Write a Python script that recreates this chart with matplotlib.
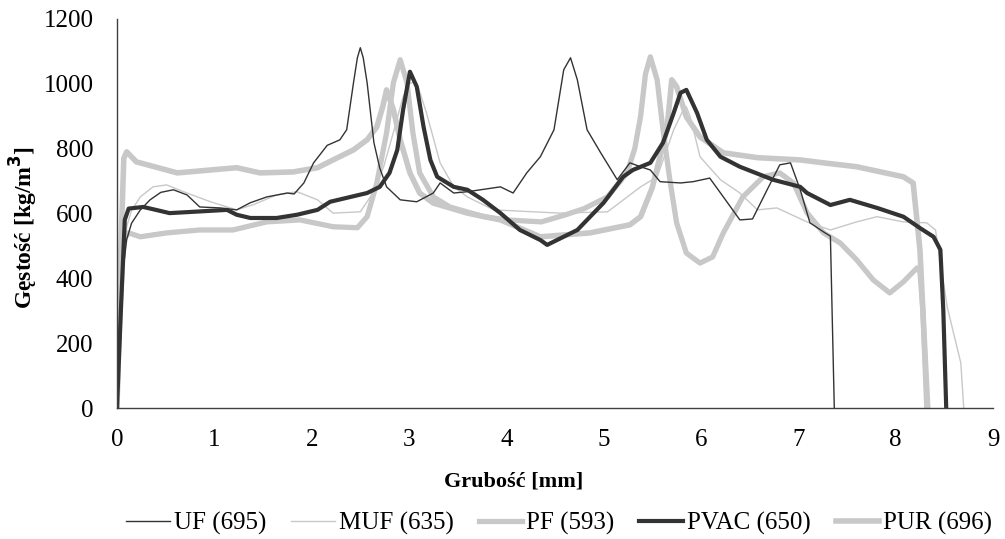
import matplotlib
matplotlib.use('Agg')
import matplotlib.pyplot as plt

plt.rcParams['font.family'] = ['Liberation Serif', 'DejaVu Serif']

# profile gęstości
uf_x = [0, 0.03, 0.06, 0.1, 0.15, 0.24, 0.34, 0.45, 0.58, 0.72, 0.85, 1.06, 1.23, 1.37, 1.54, 1.75, 1.82, 1.92,
        2.02, 2.16, 2.29, 2.36, 2.43, 2.47, 2.5, 2.53, 2.57, 2.64, 2.7, 2.77, 2.91, 3.08, 3.25, 3.32, 3.46, 3.6,
        3.94, 4.07, 4.21, 4.35, 4.49, 4.59, 4.66, 4.73, 4.83, 4.97, 5.14, 5.27, 5.38, 5.48, 5.58, 5.79, 5.92,
        6.09, 6.23, 6.4, 6.53, 6.68, 6.81, 6.92, 7.02, 7.12, 7.26, 7.33, 7.37]
uf_y = [0, 200, 420, 520, 570, 611, 642, 665, 673, 657, 620, 617, 611, 633, 651, 663, 660, 694,
        756, 810, 827, 858, 1003, 1080, 1111, 1080, 1003, 818, 740, 682, 642, 636, 663, 694, 663, 667,
        682, 663, 725, 775, 858, 1043, 1080, 1012, 858, 787, 704, 756, 744, 734, 698, 694, 698,
        709, 651, 580, 583, 673, 750, 756, 673, 571, 543, 530, 0]

muf_x = [0, 0.03, 0.06, 0.1, 0.15, 0.24, 0.37, 0.51, 0.72, 0.96, 1.23, 1.4, 1.64, 1.85, 2.06, 2.22, 2.5,
         2.63, 2.74, 2.84, 2.94, 3.0, 3.05, 3.1, 3.18, 3.32, 3.46, 3.6, 3.87, 4.28, 4.55, 5.04, 5.38, 5.55,
         5.72, 5.82, 5.85, 5.89, 5.99, 6.2, 6.4, 6.58, 6.78, 7.09, 7.33, 7.6, 7.81, 8.08, 8.32, 8.41, 8.53,
         8.67, 8.7]
muf_y = [0, 200, 420, 560, 610, 651, 682, 688, 663, 636, 611, 627, 657, 667, 642, 601, 605,
         663, 744, 850, 960, 1000, 1005, 985, 910, 756, 682, 651, 611, 605, 601, 605, 682, 713,
         858, 920, 929, 898, 775, 704, 663, 611, 617, 574, 549, 574, 590, 574, 571, 549, 312,
         139, 0]

pf_x = [0, 0.03, 0.07, 0.12, 0.24, 0.51, 0.85, 1.19, 1.54, 1.88, 2.22, 2.47, 2.57, 2.67, 2.77, 2.84, 2.91,
        2.98, 3.04, 3.11, 3.25, 3.42, 3.77, 4.0, 4.36, 4.6, 4.8, 5.04, 5.24, 5.32, 5.38, 5.43, 5.48, 5.55,
        5.61, 5.68, 5.75, 5.85, 5.99, 6.12, 6.23, 6.43, 6.64, 6.81, 6.95, 7.09, 7.26, 7.43, 7.6, 7.77,
        7.94, 8.08, 8.22, 8.25, 8.28, 8.32]
pf_y = [0, 300, 520, 540, 528, 540, 549, 549, 574, 580, 559, 556, 590, 694, 849, 1003, 1074,
        1003, 849, 725, 651, 620, 590, 580, 574, 595, 615, 651, 725, 800, 900, 1030, 1083, 1012,
        858, 704, 571, 478, 447, 466, 540, 651, 713, 725, 694, 602, 540, 509, 457, 395,
        355, 389, 432, 420, 302, 0]

pvac_x = [0, 0.04, 0.08, 0.12, 0.27, 0.4, 0.54, 0.78, 1.13, 1.23, 1.37, 1.64, 1.85, 2.06, 2.19, 2.57, 2.7,
          2.8, 2.88, 2.94, 3.01, 3.08, 3.15, 3.22, 3.29, 3.46, 3.6, 3.76, 3.94, 4.14, 4.35, 4.42, 4.73, 5.0,
          5.2, 5.3, 5.48, 5.61, 5.72, 5.79, 5.85, 5.96, 6.06, 6.2, 6.4, 6.74, 7.02, 7.09, 7.33, 7.53, 7.81,
          8.08, 8.25, 8.39, 8.46, 8.49, 8.52]
pvac_y = [0, 300, 580, 615, 620, 611, 601, 605, 611, 596, 586, 586, 596, 611, 636, 663, 682,
          725, 796, 920, 1037, 991, 867, 765, 713, 682, 673, 642, 601, 549, 518, 503, 549, 633,
          713, 734, 756, 818, 910, 972, 981, 910, 827, 775, 744, 704, 682, 663, 626, 642, 617,
          590, 555, 528, 488, 302, 0]

pur_x = [0, 0.03, 0.07, 0.1, 0.2, 0.62, 0.96, 1.23, 1.47, 1.81, 2.06, 2.22, 2.43, 2.57, 2.67, 2.73, 2.77,
         2.84, 2.91, 3.01, 3.11, 3.25, 3.6, 3.94, 4.35, 4.86, 5.27, 5.38, 5.5, 5.6, 5.65, 5.7, 5.75, 5.85,
         5.99, 6.23, 6.58, 7.02, 7.26, 7.6, 8.08, 8.18, 8.25, 8.28, 8.33]
pur_y = [0, 400, 770, 790, 759, 725, 734, 741, 725, 728, 741, 765, 796, 827, 867, 929, 981,
         920, 827, 725, 663, 632, 601, 580, 528, 540, 565, 590, 680, 800, 858, 1012, 991, 898,
         836, 787, 772, 765, 756, 744, 713, 694, 488, 302, 0]

dark = '#333333'
light = '#c8c8c8'

fig = plt.figure(figsize=(10.05, 5.39), dpi=100)
ax = fig.add_axes([0.1164, 0.243, 0.8716, 0.722])

l_pf, = ax.plot(pf_x, pf_y, color=light, lw=3.8, label='PF (593)', solid_joinstyle='round')
l_pur, = ax.plot(pur_x, pur_y, color=light, lw=4.0, label='PUR (696)', solid_joinstyle='round')
l_muf, = ax.plot(muf_x, muf_y, color=light, lw=1.0, label='MUF (635)')
l_pvac, = ax.plot(pvac_x, pvac_y, color=dark, lw=3.0, label='PVAC (650)', solid_joinstyle='round')
l_uf, = ax.plot(uf_x, uf_y, color=dark, lw=1.0, label='UF (695)')

ax.set_xlim(0, 9)
ax.set_ylim(0, 1200)
ax.set_xticks(range(0, 10))
ax.set_yticks(range(0, 1201, 200))
ax.tick_params(length=0, labelsize=18)
ax.tick_params(axis='x', pad=15)
ax.tick_params(axis='y', pad=17)
for s in ['top', 'right']:
    ax.spines[s].set_visible(False)
for s in ['left', 'bottom']:
    ax.spines[s].set_color('#404040')
    ax.spines[s].set_linewidth(1.0)

ax.set_xlabel('Grubość [mm]', fontsize=16, fontweight='bold')
ax.xaxis.set_label_coords(0.453, -0.163)
ax.set_ylabel('Gęstość [kg/m$^\\mathbf{3}$]', fontsize=17, fontweight='bold')
ax.yaxis.set_label_coords(-0.088, 0.465)

ax.legend(handles=[l_uf, l_muf, l_pf, l_pvac, l_pur], loc='center', bbox_to_anchor=(0.505, -0.296),
          ncol=5, frameon=False, fontsize=18, handlelength=1.75, columnspacing=1.0, handletextpad=0.15)

fig.savefig('out.png', dpi=100)
